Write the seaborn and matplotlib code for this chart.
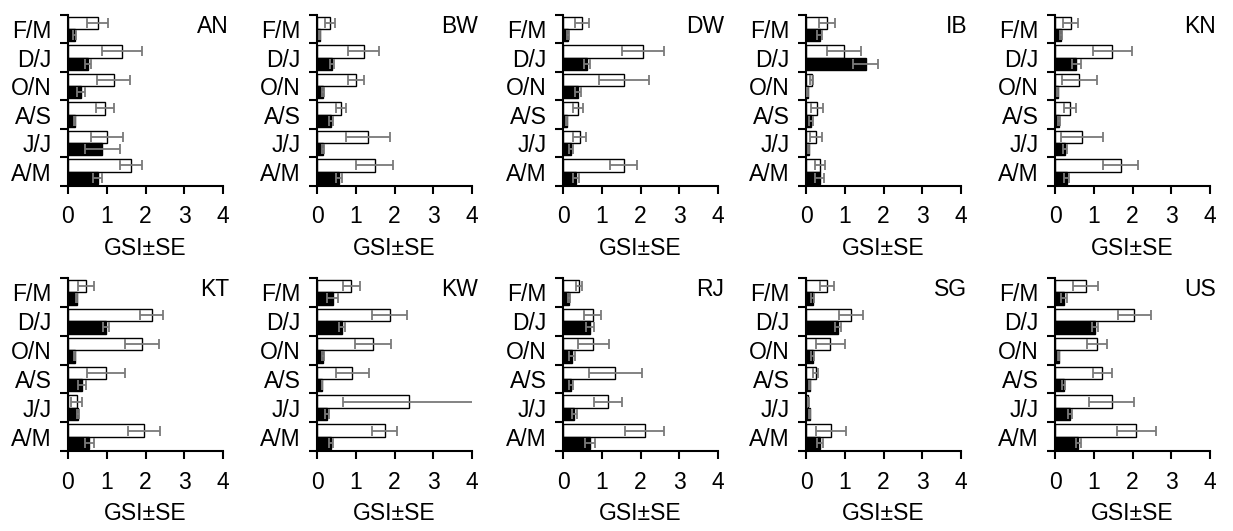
import numpy as np
import pandas as pd
import matplotlib
matplotlib.use("Agg")
import matplotlib.pyplot as plt
import seaborn as sns

# categorias (de cima para baixo)
meses = ["F/M", "D/J", "O/N", "A/S", "J/J", "A/M"]
locais = ["AN", "BW", "DW", "IB", "KN", "KT", "KW", "RJ", "SG", "US"]

# GSI medio e erro padrao, barras brancas e pretas, na ordem de "meses"
AN_branco = [0.77, 1.40, 1.18, 0.95, 1.01, 1.62]
AN_branco_se = [0.27, 0.52, 0.43, 0.24, 0.41, 0.28]
AN_preto = [0.17, 0.52, 0.34, 0.17, 0.88, 0.77]
AN_preto_se = [0.03, 0.07, 0.10, 0.02, 0.45, 0.12]

BW_branco = [0.33, 1.20, 1.01, 0.62, 1.32, 1.49]
BW_branco_se = [0.13, 0.39, 0.20, 0.12, 0.56, 0.48]
BW_preto = [0.07, 0.39, 0.15, 0.35, 0.16, 0.57]
BW_preto_se = [0.01, 0.05, 0.02, 0.05, 0.02, 0.08]

DW_branco = [0.48, 2.07, 1.57, 0.39, 0.43, 1.57]
DW_branco_se = [0.18, 0.54, 0.65, 0.13, 0.17, 0.35]
DW_preto = [0.13, 0.61, 0.39, 0.10, 0.20, 0.33]
DW_preto_se = [0.02, 0.08, 0.07, 0.01, 0.05, 0.07]

IB_branco = [0.54, 0.98, 0.15, 0.28, 0.26, 0.35]
IB_branco_se = [0.20, 0.45, 0.04, 0.15, 0.15, 0.13]
IB_preto = [0.35, 1.54, 0.04, 0.13, 0.07, 0.35]
IB_preto_se = [0.06, 0.33, 0.01, 0.04, 0.01, 0.12]

KN_branco = [0.40, 1.48, 0.63, 0.39, 0.70, 1.70]
KN_branco_se = [0.19, 0.50, 0.46, 0.16, 0.54, 0.45]
KN_preto = [0.16, 0.55, 0.07, 0.11, 0.26, 0.30]
KN_preto_se = [0.02, 0.11, 0.01, 0.02, 0.05, 0.07]

KT_branco = [0.47, 2.16, 1.91, 0.98, 0.22, 1.97]
KT_branco_se = [0.20, 0.29, 0.43, 0.50, 0.15, 0.41]
KT_preto = [0.22, 0.98, 0.17, 0.36, 0.25, 0.55]
KT_preto_se = [0.02, 0.07, 0.02, 0.11, 0.03, 0.12]

KW_branco = [0.89, 1.88, 1.44, 0.91, 2.38, 1.75]
KW_branco_se = [0.22, 0.45, 0.47, 0.43, 1.72, 0.32]
KW_preto = [0.41, 0.65, 0.16, 0.13, 0.26, 0.35]
KW_preto_se = [0.14, 0.08, 0.02, 0.01, 0.05, 0.05]

RJ_branco = [0.42, 0.77, 0.78, 1.35, 1.16, 2.11]
RJ_branco_se = [0.08, 0.22, 0.40, 0.68, 0.35, 0.50]
RJ_preto = [0.16, 0.70, 0.23, 0.20, 0.29, 0.70]
RJ_preto_se = [0.02, 0.10, 0.08, 0.05, 0.07, 0.13]

SG_branco = [0.55, 1.16, 0.63, 0.25, 0.06, 0.65]
SG_branco_se = [0.18, 0.32, 0.37, 0.07, 0.01, 0.38]
SG_preto = [0.17, 0.82, 0.17, 0.10, 0.10, 0.36]
SG_preto_se = [0.03, 0.08, 0.04, 0.01, 0.01, 0.08]

US_branco = [0.79, 2.05, 1.09, 1.22, 1.47, 2.10]
US_branco_se = [0.33, 0.43, 0.26, 0.24, 0.58, 0.51]
US_preto = [0.23, 1.04, 0.10, 0.23, 0.39, 0.60]
US_preto_se = [0.08, 0.08, 0.01, 0.04, 0.06, 0.07]

dados = {
    "AN": (AN_branco, AN_branco_se, AN_preto, AN_preto_se),
    "BW": (BW_branco, BW_branco_se, BW_preto, BW_preto_se),
    "DW": (DW_branco, DW_branco_se, DW_preto, DW_preto_se),
    "IB": (IB_branco, IB_branco_se, IB_preto, IB_preto_se),
    "KN": (KN_branco, KN_branco_se, KN_preto, KN_preto_se),
    "KT": (KT_branco, KT_branco_se, KT_preto, KT_preto_se),
    "KW": (KW_branco, KW_branco_se, KW_preto, KW_preto_se),
    "RJ": (RJ_branco, RJ_branco_se, RJ_preto, RJ_preto_se),
    "SG": (SG_branco, SG_branco_se, SG_preto, SG_preto_se),
    "US": (US_branco, US_branco_se, US_preto, US_preto_se),
}

# Estilo
sns.set_style("ticks")
plt.rcParams['font.family'] = ['Liberation Sans', 'DejaVu Sans']
plt.rcParams['font.size'] = 16.5
for chave in ["text.color", "axes.labelcolor", "xtick.color", "ytick.color",
              "axes.edgecolor"]:
    plt.rcParams[chave] = "black"

fig = plt.figure(figsize=(12.33, 5.31), dpi=100)

# posicoes dos paineis (fracao da figura)
esquerdas = [68, 317, 563, 806, 1055]
linhas = [(0.650, 0.322), (0.150, 0.327)]

for i, local in enumerate(locais):
    linha, coluna = divmod(i, 5)
    base, altura = linhas[linha]
    ax = fig.add_axes([esquerdas[coluna] / 1233, base, 155 / 1233, altura])

    branco, branco_se, preto, preto_se = dados[local]
    df = pd.DataFrame({
        "Mes": meses * 2,
        "GSI": branco + preto,
        "Sexo": ["branco"] * 6 + ["preto"] * 6,
    })
    sns.barplot(data=df, x="GSI", y="Mes", hue="Sexo", order=meses,
                hue_order=["branco", "preto"],
                palette={"branco": "white", "preto": "black"},
                edgecolor="black", linewidth=1, width=0.86,
                errorbar=None, legend=False, ax=ax)

    # barras de erro (SE)
    for cont, se in zip(ax.containers, [branco_se, preto_se]):
        xs = [b.get_width() for b in cont]
        ys = [b.get_y() + b.get_height() / 2 for b in cont]
        ax.errorbar(xs, ys, xerr=se, fmt="none", ecolor="#7a7a7a",
                    elinewidth=1.3, capsize=3.5, capthick=1.3, zorder=5)

    ax.set_xlim(0, 4)
    ax.set_ylim(5.5, -0.5)
    ax.set_xticks([0, 1, 2, 3, 4])
    ax.set_yticks(np.arange(-0.5, 6, 1), minor=True)
    ax.tick_params(axis="y", which="major", length=0, pad=12)
    ax.tick_params(axis="y", which="minor", length=6, width=1.5)
    ax.tick_params(axis="x", length=6, width=1.5, pad=8)
    for s in ["left", "bottom"]:
        ax.spines[s].set_linewidth(1.5)
    sns.despine(ax=ax)
    ax.set_ylabel("")
    ax.set_xlabel("GSI±SE", labelpad=6)
    ax.text(1.04, 1.0, local, transform=ax.transAxes, ha="right", va="top",
            fontsize=16.5)

plt.savefig("out.png", dpi=100)
